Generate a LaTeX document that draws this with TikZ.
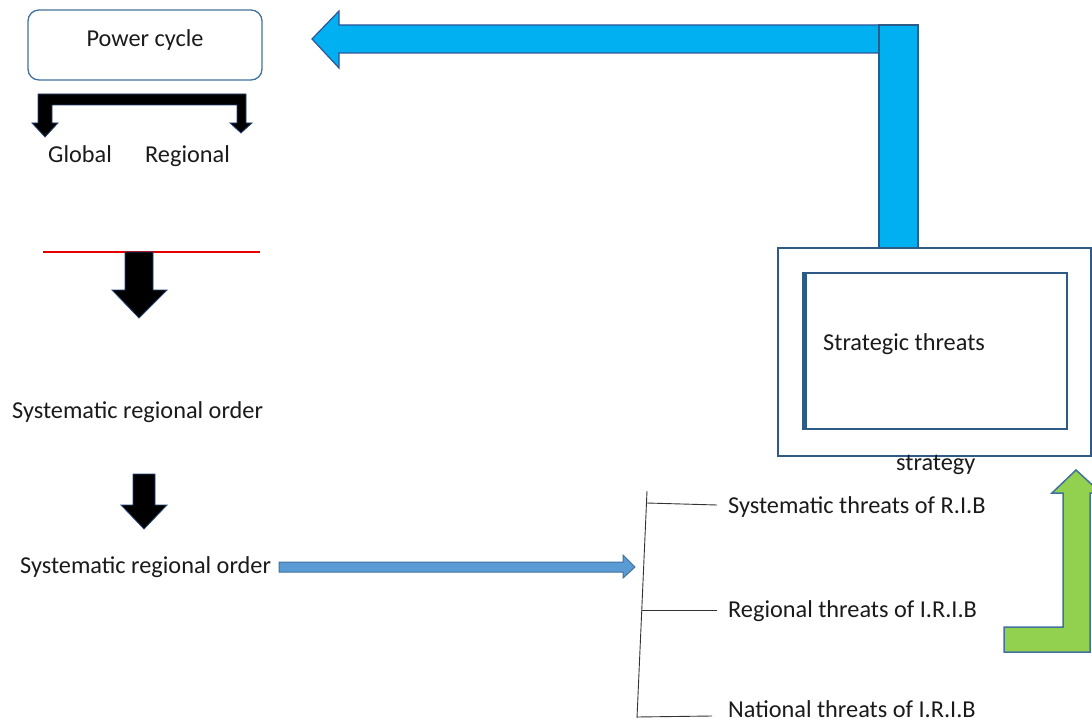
\documentclass[tikz,border=0pt]{standalone}
\usepackage{fontspec}
\setmainfont{Carlito}
\definecolor{skyfill}{HTML}{00B0F0}
\definecolor{skyline}{HTML}{2F5597}
\definecolor{boxline}{HTML}{2E5A88}
\definecolor{roundline}{HTML}{41719C}
\definecolor{thinfill}{HTML}{5B9BD5}
\definecolor{greenfill}{HTML}{92D050}
\definecolor{txt}{HTML}{1A1A1A}
\tikzset{
  lbl/.style={inner sep=0pt, anchor=base west, font=\fontsize{24.3}{28}\selectfont, text=txt},
  clbl/.style={inner sep=0pt, anchor=base, font=\fontsize{24.3}{28}\selectfont, text=txt},
  blackarrow/.style={fill=black, draw=skyline!80!black, line width=0.8pt, line join=miter},
  bluearrow/.style={fill=skyfill, draw=skyline, line width=1.2pt, line join=miter},
  thinarrow/.style={fill=thinfill, draw=roundline, line width=1pt, line join=miter},
  greenarrow/.style={fill=greenfill, draw=roundline, line width=1.5pt, line join=miter},
  bracketline/.style={draw=black!80, line width=0.9pt},
}
\begin{document}
\begin{tikzpicture}[x=1pt,y=-1pt]
\useasboundingbox (0,0) rectangle (1092,722);
\begin{scope}
\clip (0,0) rectangle (1092,722);

% Power cycle box
\draw[roundline, line width=1.3pt, rounded corners=11pt] (28,10) rectangle (262,80);
\node[clbl] (pc) at (145,47) {Power cycle};

% black bracket arrow
\draw[blackarrow] (38,94) -- (246,94) -- (246,123) -- (252,123) -- (241,133) -- (230,123) -- (237,123)
  -- (237,105) -- (52,105) -- (52,123) -- (58,123) -- (45,137) -- (32,123) -- (38,123) -- cycle;
\node[lbl] (glob) at (48,163) {Global};
\node[lbl] (reg) at (145,163) {Regional};

% red line
\draw[red!90!black, line width=1.1pt] (43,252) -- (260,252);

% black arrow 1
\draw[blackarrow] (125,252) -- (153,252) -- (153,290) -- (167,290) -- (139,318) -- (112,290) -- (125,290) -- cycle;
\node[lbl] (sro1) at (12,418) {Systematic regional order};

% black arrow 2
\draw[blackarrow] (133,474) -- (155,474) -- (155,505) -- (167,505) -- (144,529) -- (121,505) -- (133,505) -- cycle;
\node[lbl] (sro2) at (20,573) {Systematic regional order};

% thin blue arrow
\draw[thinarrow] (279,562) -- (623,562) -- (623,555) -- (635,567) -- (623,578) -- (623,572) -- (279,572) -- cycle;

% bracket
\coordinate (bt) at (647,491);
\coordinate (bb) at (637,718);
\coordinate (t1a) at (647,503);
\coordinate (t1b) at (717,505);
\coordinate (t2a) at (642,610);
\coordinate (t2b) at (717,610);
\coordinate (t3a) at (637,717);
\coordinate (t3b) at (712,716);
\draw[bracketline] (bt) -- (bb);
\draw[bracketline] (t1a) -- (t1b);
\draw[bracketline] (t2a) -- (t2b);
\draw[bracketline] (t3a) -- (t3b);
\node[lbl] (st) at (728,513) {Systematic threats of R.I.B};
\node[lbl] (rt) at (728,617) {Regional threats of I.R.I.B};
\node[lbl] (nt) at (728,717) {National threats of I.R.I.B};

% big blue arrow
\draw[bluearrow] (312,39) -- (339,11) -- (339,25) -- (879,25) -- (879,53) -- (339,53) -- (339,68) -- cycle;
\draw[bluearrow, draw=boxline, line width=2pt] (879,25) rectangle (918,248);

% strategy boxes
\draw[boxline, line width=2.2pt] (778,248) rectangle (1091,456);
\draw[boxline, line width=2pt] (803,273) rectangle (1067,429);
\draw[boxline, line width=4pt] (805,272) -- (805,430);
\node[lbl] (sth) at (823,350) {Strategic threats};
\node[lbl] (stg) at (896,470) {strategy};

% green arrow
\draw[greenarrow] (1004,627) -- (1063,627) -- (1063,493) -- (1052,493) -- (1076,470) -- (1101,493)
  -- (1090,493) -- (1090,652) -- (1004,652) -- cycle;
\end{scope}
\end{tikzpicture}
\end{document}
